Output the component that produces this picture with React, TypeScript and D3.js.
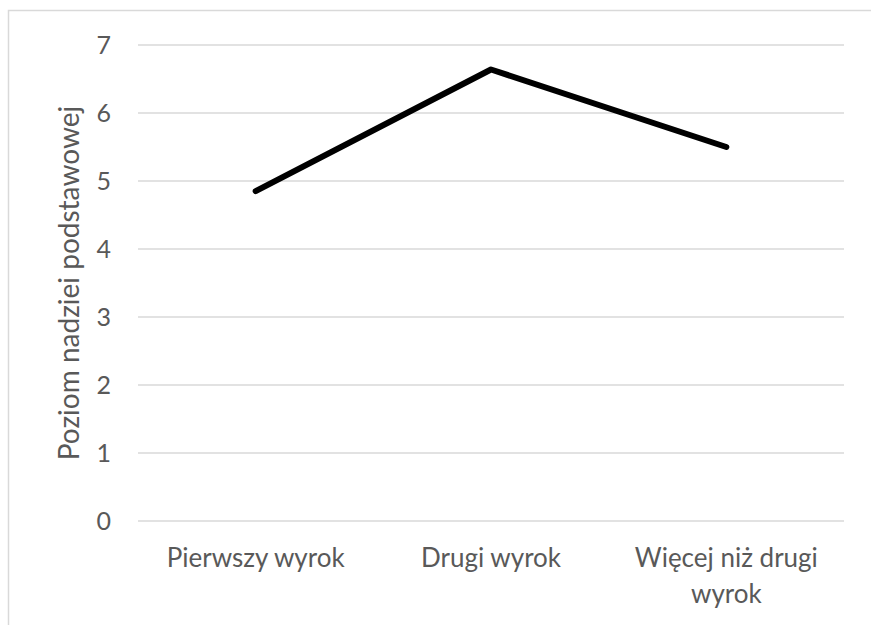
import React, { useEffect, useRef } from "react";
import * as d3 from "d3";

const categories = ["Pierwszy wyrok", "Drugi wyrok", "Więcej niż drugi wyrok"];
const categoryLines = [["Pierwszy wyrok"], ["Drugi wyrok"], ["Więcej niż drugi", "wyrok"]];
const values = [4.85, 6.64, 5.5];
const yTicks = [0, 1, 2, 3, 4, 5, 6, 7];
const yTitle = "Poziom nadziei podstawowej";

function App() {
  const ref = useRef<SVGSVGElement | null>(null);
  const width = 871;
  const height = 625;
  const marginTop = 45;
  const marginRight = 27;
  const marginBottom = 104;
  const marginLeft = 138;

  useEffect(() => {
    document.body.style.margin = "0";
    document.body.style.overflow = "hidden";

    const x = d3
      .scaleBand()
      .domain(categories)
      .range([marginLeft, width - marginRight]);

    const y = d3
      .scaleLinear()
      .domain([0, 7])
      .range([height - marginBottom, marginTop]);

    const svg = d3.select(ref.current);
    svg.selectAll("*").remove();
    svg
      .attr("width", width)
      .attr("height", height)
      .attr("viewBox", [0, 0, width, height])
      .style("font-family", "Lato, 'Open Sans', sans-serif")
      .style("display", "block");

    // outer frame (only top and left edges are visible)
    svg
      .append("path")
      .attr("d", `M8.5,${height}V10.5H${width}`)
      .attr("fill", "none")
      .attr("stroke", "#d9d9d9")
      .attr("stroke-width", 1.5);

    // gridlines
    svg
      .append("g")
      .selectAll("line")
      .data(yTicks)
      .join("line")
      .attr("x1", marginLeft)
      .attr("x2", width - marginRight)
      .attr("y1", (d) => y(d))
      .attr("y2", (d) => y(d))
      .attr("stroke", "#d9d9d9")
      .attr("stroke-width", 1.5);

    // y tick labels
    svg
      .append("g")
      .selectAll("text")
      .data(yTicks)
      .join("text")
      .attr("x", 111)
      .attr("y", (d) => y(d))
      .attr("dy", "0.36em")
      .attr("text-anchor", "end")
      .attr("fill", "#595959")
      .attr("font-size", 25)
      .text((d) => d);

    // category labels
    const xl = svg
      .append("g")
      .selectAll("text")
      .data(categories)
      .join("text")
      .attr("text-anchor", "middle")
      .attr("fill", "#595959")
      .attr("font-size", 26)
      .attr("transform", (d) => `translate(${x(d)! + x.bandwidth() / 2},${height - marginBottom + 46})`);
    xl.selectAll("tspan")
      .data((d, i) => categoryLines[i])
      .join("tspan")
      .attr("x", 0)
      .attr("y", (d, i) => i * 36)
      .text((d) => d);

    // y axis title
    svg
      .append("text")
      .attr("transform", `translate(79,${(marginTop + height - marginBottom) / 2}) rotate(-90)`)
      .attr("text-anchor", "middle")
      .attr("fill", "#595959")
      .attr("font-size", 28)
      .text(yTitle);

    // the line
    svg
      .append("path")
      .datum(values)
      .attr("fill", "none")
      .attr("stroke", "black")
      .attr("stroke-width", 6)
      .attr("stroke-linecap", "round")
      .attr("stroke-linejoin", "round")
      .attr(
        "d",
        d3
          .line<number>()
          .x((d, i) => x(categories[i])! + x.bandwidth() / 2)
          .y((d) => y(d))
      );
  }, []);

  return (
    <div>
      <svg ref={ref}></svg>
    </div>
  );
}

export default App;
